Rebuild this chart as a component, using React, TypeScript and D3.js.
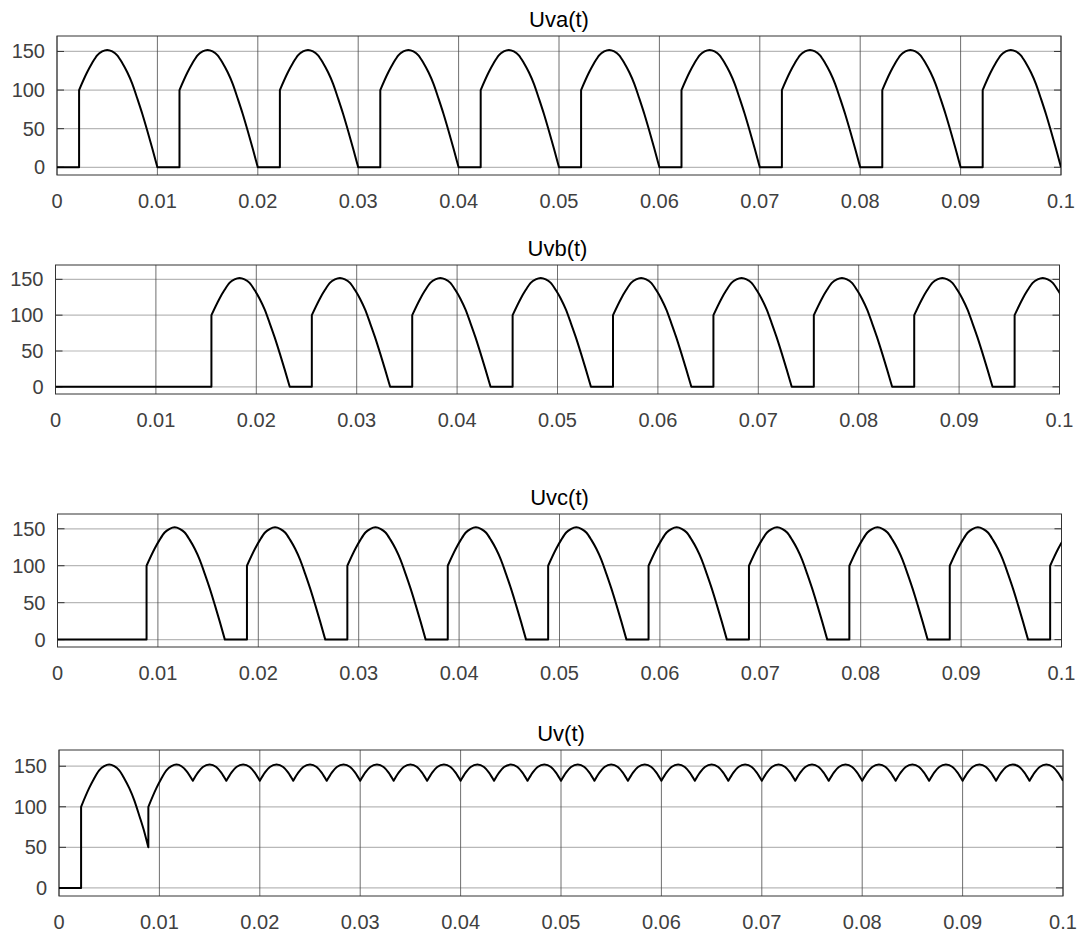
import React, { useEffect, useRef } from 'react';
import * as d3 from 'd3';

// axis ticks
const xTicks = [0, 0.01, 0.02, 0.03, 0.04, 0.05, 0.06, 0.07, 0.08, 0.09, 0.1];
const xTickLabels = ['0', '0.01', '0.02', '0.03', '0.04', '0.05', '0.06', '0.07', '0.08', '0.09', '0.1'];
const yTicks = [0, 50, 100, 150];
const yTickLabels = ['0', '50', '100', '150'];

// one conducting pulse: [time from half-wave start, volts]
const pulseShape: [number, number][] = [
  [0.0022, 100], [0.003, 123], [0.0035, 135], [0.004, 145], [0.0045, 150], [0.005, 152],
  [0.0055, 150], [0.006, 145], [0.0065, 135], [0.007, 123], [0.0075, 108], [0.008, 89],
  [0.0085, 69], [0.009, 47], [0.0095, 24], [0.01, 0],
];

// half-wave start times of each phase
const uvaStarts = [0, 0.01, 0.02, 0.03, 0.04, 0.05, 0.06, 0.07, 0.08, 0.09];
const uvbStarts = [0.01333, 0.02333, 0.03333, 0.04333, 0.05333, 0.06333, 0.07333, 0.08333, 0.09333];
const uvcStarts = [0.00667, 0.01667, 0.02667, 0.03667, 0.04667, 0.05667, 0.06667, 0.07667, 0.08667, 0.09667];

// Uv(t): start-up part, then the ripple
const uvOff: [number, number][] = [[0, 0], [0.0022, 0]];
const uvFirstArc: [number, number][] = [
  [0.0022, 100], [0.003, 123], [0.0035, 135], [0.004, 145], [0.0045, 150], [0.005, 152],
  [0.0055, 150], [0.006, 145], [0.0065, 135], [0.007, 123], [0.0075, 108], [0.008, 89],
  [0.0085, 69], [0.0089, 50],
];
const uvSecondArc: [number, number][] = [
  [0.0089, 100], [0.0097, 123], [0.0102, 135], [0.0107, 145], [0.0112, 150], [0.0117, 152],
  [0.0122, 150], [0.0127, 144], [0.01333, 132],
];
const rippleShape: [number, number][] = [
  [0, 132], [0.0005, 142], [0.001, 149], [0.00167, 152], [0.00233, 149], [0.00283, 142], [0.00333, 132],
];
const rippleStarts = [
  0.01333, 0.01667, 0.02, 0.02333, 0.02667, 0.03, 0.03333, 0.03667, 0.04, 0.04333, 0.04667, 0.05,
  0.05333, 0.05667, 0.06, 0.06333, 0.06667, 0.07, 0.07333, 0.07667, 0.08, 0.08333, 0.08667, 0.09,
  0.09333, 0.09667,
];

type Pt = [number, number];

const phasePieces = (starts: number[]): Pt[][] => {
  const pieces: Pt[][] = [];
  let prevEnd = 0;
  starts.forEach(s => {
    const arc = pulseShape.map(([dt, v]) => [s + dt, v] as Pt);
    pieces.push([[prevEnd, 0], [arc[0][0], 0]]);
    pieces.push(arc);
    prevEnd = arc[arc.length - 1][0];
  });
  return pieces;
};

const uvPieces = (): Pt[][] => [
  uvOff,
  uvFirstArc,
  uvSecondArc,
  ...rippleStarts.map(s => rippleShape.map(([dt, v]) => [s + dt, v] as Pt)),
];

// subplot boxes in page pixels
const layout = [
  { title: 'Uva(t)', left: 57, right: 1061, top: 36, bottom: 175 },
  { title: 'Uvb(t)', left: 55.5, right: 1059.5, top: 265, bottom: 394 },
  { title: 'Uvc(t)', left: 57.5, right: 1061.5, top: 514, bottom: 647 },
  { title: 'Uv(t)', left: 59, right: 1063, top: 750, bottom: 896 },
];

const App = () => {
  const ref = useRef<SVGSVGElement>(null);

  useEffect(() => {
    if (!ref.current) return;
    const svg = d3.select(ref.current);
    svg.selectAll('*').remove();

    const series = [phasePieces(uvaStarts), phasePieces(uvbStarts), phasePieces(uvcStarts), uvPieces()];
    const font = '"Liberation Sans", Arial, Helvetica, sans-serif';

    layout.forEach((p, i) => {
      const x = d3.scaleLinear().domain([0, 0.1]).range([p.left, p.right]);
      const y = d3.scaleLinear().domain([-10, 170]).range([p.bottom, p.top]);
      const g = svg.append('g');

      // clip for the trace
      const clipId = `clip-${i}`;
      svg.append('defs').append('clipPath').attr('id', clipId)
        .append('rect')
        .attr('x', p.left).attr('y', p.top)
        .attr('width', p.right - p.left).attr('height', p.bottom - p.top);

      g.append('rect')
        .attr('x', p.left).attr('y', p.top)
        .attr('width', p.right - p.left).attr('height', p.bottom - p.top)
        .attr('fill', '#fff');

      // grid
      g.selectAll('.hgrid').data(yTicks).enter().append('line')
        .attr('x1', p.left).attr('x2', p.right)
        .attr('y1', d => y(d)).attr('y2', d => y(d))
        .attr('stroke', '#b8b8b8').attr('stroke-width', 1.2);
      g.selectAll('.vgrid').data(xTicks).enter().append('line')
        .attr('y1', p.top).attr('y2', p.bottom)
        .attr('x1', d => x(d)).attr('x2', d => x(d))
        .attr('stroke', '#4a4a4a').attr('stroke-width', 0.8);

      // inward ticks on left/right
      const tl = 7;
      yTicks.forEach(v => {
        g.append('line').attr('x1', p.left).attr('x2', p.left + tl)
          .attr('y1', y(v)).attr('y2', y(v)).attr('stroke', '#333').attr('stroke-width', 1);
        g.append('line').attr('x1', p.right - tl).attr('x2', p.right)
          .attr('y1', y(v)).attr('y2', y(v)).attr('stroke', '#333').attr('stroke-width', 1);
      });

      // box
      g.append('rect')
        .attr('x', p.left).attr('y', p.top)
        .attr('width', p.right - p.left).attr('height', p.bottom - p.top)
        .attr('fill', 'none').attr('stroke', '#333').attr('stroke-width', 1);

      // tick labels
      g.selectAll('.xl').data(xTicks).enter().append('text')
        .attr('x', d => x(d)).attr('y', p.bottom + 26)
        .attr('text-anchor', 'middle').attr('dominant-baseline', 'central')
        .attr('font-family', font).attr('font-size', 20).attr('fill', '#404040')
        .text((d, k) => xTickLabels[k]);
      g.selectAll('.yl').data(yTicks).enter().append('text')
        .attr('x', p.left - 12).attr('y', d => y(d))
        .attr('text-anchor', 'end').attr('dominant-baseline', 'central')
        .attr('font-family', font).attr('font-size', 20).attr('fill', '#404040')
        .text((d, k) => yTickLabels[k]);

      // title
      g.append('text')
        .attr('x', (p.left + p.right) / 2).attr('y', p.top - 17)
        .attr('text-anchor', 'middle').attr('dominant-baseline', 'central')
        .attr('font-family', font).attr('font-size', 22).attr('fill', '#000')
        .text(p.title);

      // trace: each piece smoothed, pieces joined with straight steps
      const line = d3.line<Pt>().x(d => x(d[0])).y(d => y(d[1])).curve(d3.curveMonotoneX);
      const d = series[i].map((piece, k) => {
        const s = line(piece) || '';
        return k === 0 ? s : 'L' + s.slice(1);
      }).join('');
      g.append('path')
        .attr('d', d)
        .attr('clip-path', `url(#${clipId})`)
        .attr('fill', 'none')
        .attr('stroke', '#000')
        .attr('stroke-width', 2)
        .attr('stroke-linejoin', 'round');
    });
  }, []);

  return (
    <svg ref={ref} width={1085} height={935}
      style={{ position: 'absolute', left: 0, top: 0, background: '#fff' }} />
  );
};

export default App;
